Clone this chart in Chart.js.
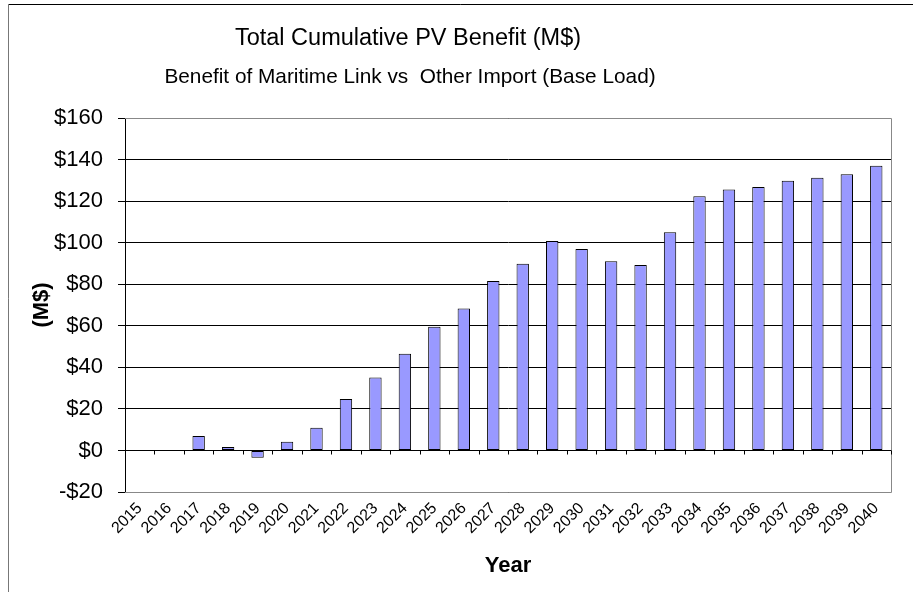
<!DOCTYPE html>
<html>
<head>
<meta charset="utf-8">
<script src="https://cdn.jsdelivr.net/npm/chart.js@4"></script>
<style>
  html, body { margin: 0; padding: 0; background: #fff; }
  #wrap { width: 913px; height: 592px; }
</style>
</head>
<body>
<div id="wrap"><canvas id="pvChart" width="913" height="592"></canvas></div>
<script>
  // Chart data
  const years = ['2015', '2016', '2017', '2018', '2019', '2020', '2021', '2022', '2023',
    '2024', '2025', '2026', '2027', '2028', '2029', '2030', '2031', '2032', '2033',
    '2034', '2035', '2036', '2037', '2038', '2039', '2040'];
  const benefit = [0, 0, 6.9, 1.6, -3.5, 4.2, 10.9, 24.8, 35.1, 46.5, 59.5, 68.3, 81.6,
    89.9, 100.8, 97, 91, 89.3, 105, 122.3, 125.6, 126.8, 129.8, 131.3, 132.9, 137];
  const yTicks = [-20, 0, 20, 40, 60, 80, 100, 120, 140, 160];

  const mainTitle = 'Total Cumulative PV Benefit (M$)';
  const subTitle = 'Benefit of Maritime Link vs  Other Import (Base Load)';
  const FONT = "'Liberation Sans', Arial, sans-serif";

  // Titles, outer frame, plot border and the x tick marks on the zero line
  const decorPlugin = {
    id: 'decor',
    beforeDraw(chart) {
      const ctx = chart.ctx;
      ctx.save();
      ctx.lineWidth = 1;
      ctx.strokeStyle = '#000';
      ctx.beginPath();
      ctx.moveTo(8.5, 4.5);
      ctx.lineTo(913, 4.5);
      ctx.stroke();
      ctx.strokeStyle = '#777';
      ctx.beginPath();
      ctx.moveTo(8.5, 4.5);
      ctx.lineTo(8.5, 592);
      ctx.stroke();

      ctx.fillStyle = '#000';
      ctx.textAlign = 'center';
      ctx.textBaseline = 'middle';
      ctx.font = '23.5px ' + FONT;
      ctx.fillText(mainTitle, 408, 39);
      ctx.font = '20.8px ' + FONT;
      ctx.fillText(subTitle, 410, 77);
      ctx.restore();
    },
    afterDatasetsDraw(chart) {
      const ctx = chart.ctx;
      const area = chart.chartArea;
      const x = chart.scales.x;
      const y = chart.scales.y;
      ctx.save();
      ctx.lineWidth = 1;
      ctx.strokeStyle = '#888';
      ctx.beginPath();
      ctx.moveTo(area.left, Math.round(area.top) + 0.5);
      ctx.lineTo(Math.round(area.right) + 0.5, Math.round(area.top) + 0.5);
      ctx.lineTo(Math.round(area.right) + 0.5, Math.round(area.bottom) + 0.5);
      ctx.lineTo(area.left, Math.round(area.bottom) + 0.5);
      ctx.stroke();

      const zero = Math.round(y.getPixelForValue(0)) + 0.5;
      ctx.strokeStyle = '#000';
      ctx.beginPath();
      ctx.moveTo(area.left, zero);
      ctx.lineTo(area.right, zero);
      for (let i = 0; i < years.length; i++) {
        const bx = Math.round((x.getPixelForValue(i) + x.getPixelForValue(i + 1)) / 2) + 0.5;
        ctx.moveTo(bx, zero);
        ctx.lineTo(bx, zero + 4);
      }
      ctx.stroke();
      ctx.restore();
    }
  };

  const ctx = document.getElementById('pvChart').getContext('2d');
  const chart = new Chart(ctx, {
    type: 'bar',
    data: {
      labels: years,
      datasets: [{
        label: 'Benefit',
        data: benefit,
        backgroundColor: '#9999FF',
        borderColor: '#000',
        borderWidth: 1,
        borderSkipped: false,
        barPercentage: 0.42,
        categoryPercentage: 1.0
      }]
    },
    options: {
      responsive: false,
      animation: false,
      layout: { padding: { top: 118, right: 22, left: 0, bottom: 0 } },
      plugins: {
        legend: { display: false },
        tooltip: { enabled: false }
      },
      scales: {
        x: {
          grid: { display: false, drawTicks: false },
          border: { display: false },
          ticks: {
            autoSkip: false,
            maxRotation: 45,
            minRotation: 45,
            padding: 7,
            color: '#000',
            font: { family: FONT, size: 16 }
          },
          title: {
            display: true,
            text: 'Year',
            color: '#000',
            font: { family: FONT, size: 22, weight: 'bold' },
            padding: { top: 0, bottom: 13 }
          },
          afterFit(axis) { axis.height = 100; }
        },
        y: {
          min: -20,
          max: 160,
          afterBuildTicks(axis) { axis.ticks = yTicks.map(v => ({ value: v })); },
          grid: { color: '#000', lineWidth: 1, tickLength: 7, drawTicks: true },
          border: { display: true, color: '#000', width: 1 },
          ticks: {
            padding: 15,
            color: '#000',
            font: { family: FONT, size: 22 },
            callback: v => (v < 0 ? '-$' + Math.abs(v) : '$' + v)
          },
          title: {
            display: true,
            text: '(M$)',
            color: '#000',
            font: { family: FONT, size: 22, weight: 'bold' },
            padding: { top: 29, bottom: 0 }
          },
          afterFit(axis) { axis.width = 125; }
        }
      }
    },
    plugins: [decorPlugin]
  });
</script>
</body>
</html>
